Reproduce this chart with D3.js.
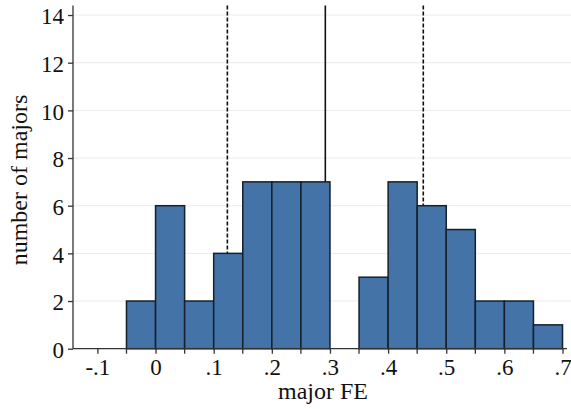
<!DOCTYPE html>
<html><head><meta charset="utf-8">
<script src="https://cdn.jsdelivr.net/npm/d3@7"></script>
<style>body{margin:0;background:#fff}svg{display:block}</style>
</head><body><svg id="c" width="571" height="409"></svg>
<script>
const binStarts = [-0.05,0,0.05,0.1,0.15,0.2,0.25,0.3,0.35,0.4,0.45,0.5,0.55,0.6,0.65];
const counts    = [2,6,2,4,7,7,7,0,3,7,6,5,2,2,1];
const binWidth = 0.05;
const xTicks = [-0.1,0,0.1,0.2,0.3,0.4,0.5,0.6,0.7];
const xTickLabels = ["-.1","0",".1",".2",".3",".4",".5",".6",".7"];
const xMinorTicks = [-0.05,0.05,0.15,0.25,0.35,0.45,0.55,0.65];
const yTicks = [0,2,4,6,8,10,12,14];
const dashedLines = [0.1235,0.4605];
const solidLines = [0.292];

const FONT = "Liberation Serif, DejaVu Serif, serif";
const FS = "23px", TFS = "24px";
const svg = d3.select("#c");
const L=73, R=567, T=5.5, B=348.7;
const x = d3.scaleLinear().domain([-0.142,0.7077]).range([L,R]);
const y = d3.scaleLinear().domain([0,14.4]).range([B,T]);

// gridlines
svg.append("g").selectAll("line").data(yTicks.filter(d=>d>0)).join("line")
  .attr("x1",L).attr("x2",571).attr("y1",d=>y(d)).attr("y2",d=>y(d))
  .attr("stroke","#ececec").attr("stroke-width",1);

// reference lines
svg.append("g").selectAll("line").data(dashedLines).join("line")
  .attr("x1",d=>x(d)).attr("x2",d=>x(d)).attr("y1",T).attr("y2",B)
  .attr("stroke","#111").attr("stroke-width",1.6).attr("stroke-dasharray","4,2");
svg.append("g").selectAll("line").data(solidLines).join("line")
  .attr("x1",d=>x(d)).attr("x2",d=>x(d)).attr("y1",T).attr("y2",B)
  .attr("stroke","#111").attr("stroke-width",1.6);

// bars
svg.append("g").selectAll("rect").data(binStarts.map((s,i)=>({s,c:counts[i]})).filter(d=>d.c>0)).join("rect")
  .attr("x",d=>x(d.s)).attr("width",d=>x(d.s+binWidth)-x(d.s))
  .attr("y",d=>y(d.c)).attr("height",d=>y(0)-y(d.c))
  .attr("fill","#4473a8").attr("stroke","#14202c").attr("stroke-width",1.5);

// y axis
const yAxis = d3.axisLeft(y).tickValues(yTicks).tickSize(5).tickPadding(4).tickFormat(d3.format("d"));
const gy = svg.append("g").attr("transform",`translate(${L},0)`).call(yAxis)
  .attr("font-family",FONT).attr("font-size",FS);
gy.select(".domain").attr("d",`M-0,${T}V${B}`).attr("stroke","#333").attr("stroke-width",1.3);
gy.selectAll(".tick line").attr("stroke","#333").attr("stroke-width",1.3);
gy.selectAll("text").attr("dy","0.38em").attr("fill","#111")
  .style("font-family",FONT).style("font-size",FS);

// x axis
const xAxis = d3.axisBottom(x).tickValues(xTicks).tickSize(5).tickPadding(5).tickFormat((d,i)=>xTickLabels[i]);
const gx = svg.append("g").attr("transform",`translate(0,${B})`).call(xAxis)
  .attr("font-family",FONT).attr("font-size",FS);
gx.select(".domain").attr("d",`M${L},0H${R}`).attr("stroke","#333").attr("stroke-width",1.3);
gx.selectAll(".tick line").attr("stroke","#333").attr("stroke-width",1.3);
gx.selectAll("text").attr("fill","#111").style("font-family",FONT).style("font-size",FS);
gx.append("g").selectAll("line").data(xMinorTicks).join("line")
  .attr("x1",d=>x(d)).attr("x2",d=>x(d)).attr("y1",0).attr("y2",5)
  .attr("stroke","#333").attr("stroke-width",1.3);

// titles
svg.append("text").attr("x",323).attr("y",399).attr("text-anchor","middle").attr("fill","#111")
  .style("font-family",FONT).style("font-size",TFS).text("major FE");
svg.append("text").attr("transform","translate(27,180) rotate(-90)").attr("text-anchor","middle").attr("fill","#111")
  .style("font-family",FONT).style("font-size",TFS).text("number of majors");
</script></body></html>
